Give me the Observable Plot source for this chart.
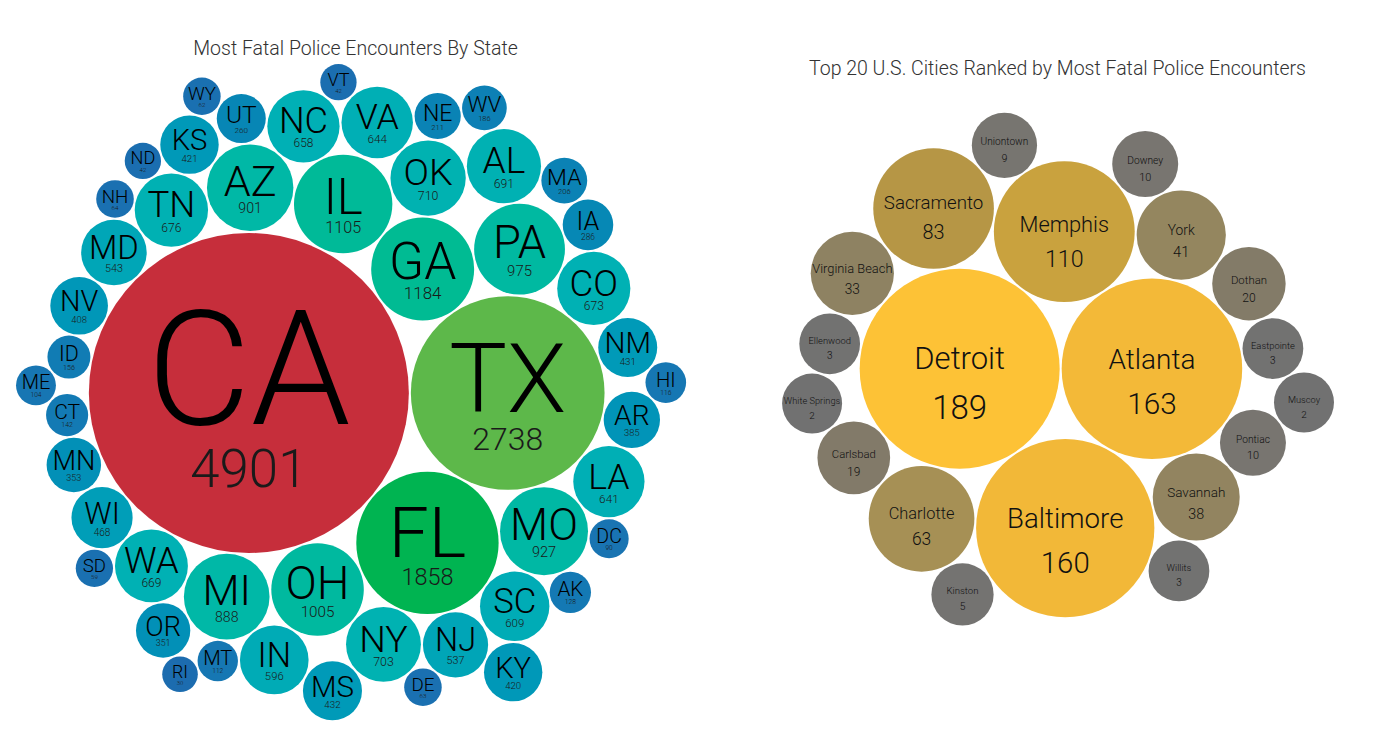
<!DOCTYPE html>
<html>
<head>
<meta charset="utf-8">
<script src="https://cdn.jsdelivr.net/npm/d3@7"></script>
<script src="https://cdn.jsdelivr.net/npm/@observablehq/plot@0.6"></script>
<style>
  html, body { margin: 0; padding: 0; background: #fff; }
  #wrap { display: flex; flex-direction: row; width: 1382px; height: 743px; }
  #wrap svg { display: block; }
</style>
</head>
<body>
<div id="wrap"></div>
<script>
// ---- Data (in the order the bubbles are packed) ----
const stateTitle = "Most Fatal Police Encounters By State";
const stateCodes = ["CA","TX","FL","GA","IL","OH","PA","MO","AZ","MI",
  "OK","NY","AL","TN","CO","WA","NC","VA","LA","SC",
  "IN","MD","NJ","WI","MS","NM","KY","KS","NV","AR",
  "MN","IA","OR","UT","NE","MA","WV","ID","CT","HI",
  "AK","MT","ME","DC","NH","DE","SD","WY","VT","ND","RI"];
const stateValues = [4901,2738,1858,1184,1105,1005,975,927,901,888,
  710,703,691,676,673,669,658,644,641,609,
  596,543,537,468,432,431,420,421,408,385,
  353,286,351,260,211,206,186,156,142,116,
  128,112,104,90,64,63,59,62,42,42,30];

const cityTitle = "Top 20 U.S. Cities Ranked by Most Fatal Police Encounters";
const cityNames = ["Detroit","Atlanta","Baltimore","Memphis","Sacramento","Charlotte",
  "York","Savannah","Virginia Beach","Dothan","Carlsbad","Pontiac","Downey",
  "Uniontown","Kinston","Willits","Ellenwood","Eastpointe","White Springs","Muscoy"];
const cityValues = [189,163,160,110,83,63,41,38,33,20,19,10,10,9,5,3,3,3,2,2];

// colour stops
const stateColorDomain = [30, 100, 200, 300, 400, 500, 650, 900, 1200, 1858, 2738, 4901];
const stateColorRange = ["#1c6caf","#1875b3","#0b82b5","#0589b5","#0096b8","#00a2b8",
  "#00b0b5","#00b8a6","#00bb92","#00b451","#5db84a","#c62e3b"];
const cityColorDomain = [2, 10, 20, 41, 63, 83, 110, 160, 189];
const cityColorRange = ["#717171","#787570","#837b68","#94865f","#a69055","#b69645",
  "#c9a23e","#f2b838","#fdc236"];

// ---- Layout ----
function packLeaves(names, values, rRange, size) {
  const rs = d3.scaleLinear().domain(d3.extent(values)).range(rRange);
  const root = d3.hierarchy({children: names.map((name, i) => ({name, value: values[i]}))})
    .sum(d => d.value || 0);
  d3.pack().size(size).padding(2).radius(n => rs(n.data.value))(root);
  return root.leaves().map(n => ({name: n.data.name, value: n.data.value, x: n.x, y: n.y, r: n.r}));
}

const states = packLeaves(stateCodes, stateValues, [17.8, 160], [711, 781]);
const cities = packLeaves(cityNames, cityValues, [30, 100], [695, 766]);

const font = "'Roboto Light', Roboto, 'Noto Sans', sans-serif";

const left = Plot.plot({
  width: 710, height: 743, margin: 0,
  x: {type: "identity", axis: null},
  y: {type: "identity", axis: null},
  r: {type: "identity"},
  color: {type: "linear", domain: stateColorDomain, range: stateColorRange, interpolate: "rgb"},
  style: {fontFamily: font, background: "#fff"},
  marks: [
    Plot.text([stateTitle], {frameAnchor: "top", dy: 48, lineAnchor: "middle", fontSize: 19.5,
      fontWeight: 300, fill: "#333", fontFamily: font}),
    Plot.dot(states, {x: "x", y: "y", r: "r", fill: "value", stroke: null, sort: null}),
    Plot.text(states, {x: "x", y: d => d.y + 0.195 * d.r, text: "name", fontSize: d => d.r,
      lineAnchor: "bottom", fontWeight: 300, fill: "#000", fontFamily: font}),
    Plot.text(states, {x: "x", y: d => d.y + 0.587 * d.r, text: d => String(d.value),
      fontSize: d => 0.33 * d.r, lineAnchor: "bottom", fontWeight: 300, fill: "#1a1a1a", fontFamily: font})
  ]
});

const right = Plot.plot({
  width: 672, height: 743, margin: 0,
  x: {type: "identity", axis: null},
  y: {type: "identity", axis: null},
  r: {type: "identity"},
  color: {type: "linear", domain: cityColorDomain, range: cityColorRange, interpolate: "rgb"},
  style: {fontFamily: font, background: "#fff"},
  marks: [
    Plot.text([cityTitle], {frameAnchor: "top", dx: 11, dy: 68, lineAnchor: "middle", fontSize: 19.5,
      fontWeight: 300, fill: "#333", fontFamily: font}),
    Plot.dot(cities, {x: "x", y: "y", r: "r", fill: "value", stroke: null, sort: null}),
    Plot.text(cities, {x: "x", y: d => d.y, text: "name", fontSize: d => 0.31 * d.r,
      lineAnchor: "bottom", fontWeight: 300, fill: "#111", fontFamily: font}),
    Plot.text(cities, {x: "x", y: d => d.y + 0.5 * d.r, text: d => String(d.value),
      fontSize: d => 0.33 * d.r, lineAnchor: "bottom", fontWeight: 300, fill: "#111", fontFamily: font})
  ]
});

document.getElementById("wrap").append(left, right);
</script>
</body>
</html>
